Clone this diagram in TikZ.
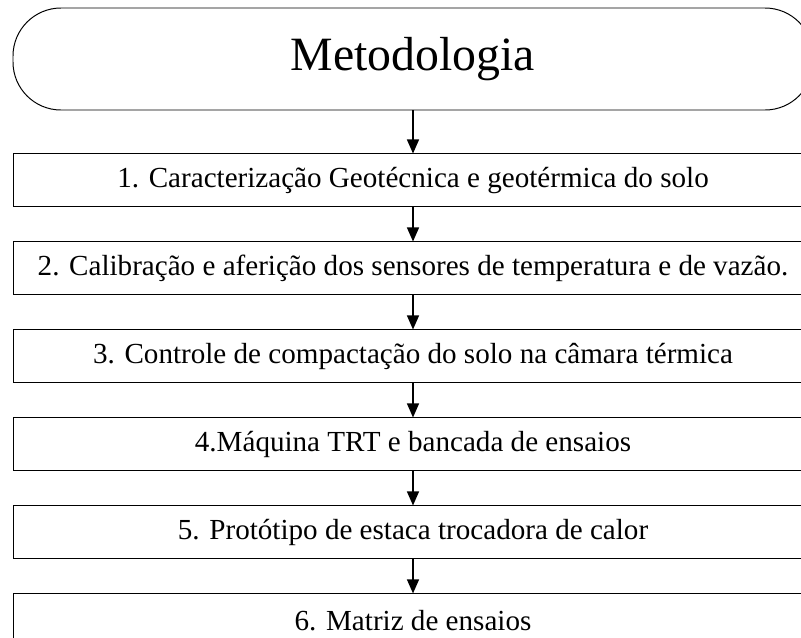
\documentclass[tikz,border=0pt]{standalone}
\usepackage{fontspec}
\setmainfont{Liberation Serif}
\usetikzlibrary{arrows.meta,positioning}

\begin{document}
\begin{tikzpicture}[
    etapa/.style={rectangle,draw,line width=0.7pt,minimum width=20cm,minimum height=1.325cm,inner sep=0pt,font=\fontsize{20.7}{24}\selectfont},
    titulo/.style={rectangle,draw,rounded corners=1.2cm,line width=0.7pt,minimum width=20cm,minimum height=2.55cm,font=\fontsize{34}{40}\selectfont},
    seta/.style={-{Triangle[length=0.35cm,width=0.3cm]},line width=0.9pt}]
    \useasboundingbox (0,0) rectangle (20.025,-15.925);
    \clip (0,0) rectangle (20.025,-15.925);

    % Titulo
    \node[titulo] (metodo) at (10.325,-1.475) {Metodologia};

    % Etapas
    \node[etapa,below=1.075cm of metodo] (e1) {1. Caracterização Geotécnica e geotérmica do solo};
    \draw[seta] (metodo) -- (e1);

    \node[etapa,below=0.85cm of e1] (e2) {2. Calibração e aferição dos sensores de temperatura e de vazão.};
    \draw[seta] (e1) -- (e2);

    \node[etapa,below=0.85cm of e2] (e3) {3. Controle de compactação do solo na câmara térmica};
    \draw[seta] (e2) -- (e3);

    \node[etapa,below=0.85cm of e3] (e4) {4.Máquina TRT e bancada de ensaios};
    \draw[seta] (e3) -- (e4);

    \node[etapa,below=0.85cm of e4] (e5) {5. Protótipo de estaca trocadora de calor};
    \draw[seta] (e4) -- (e5);

    \node[etapa,below=0.85cm of e5] (e6) {6. Matriz de ensaios};
    \draw[seta] (e5) -- (e6);
\end{tikzpicture}
\end{document}
